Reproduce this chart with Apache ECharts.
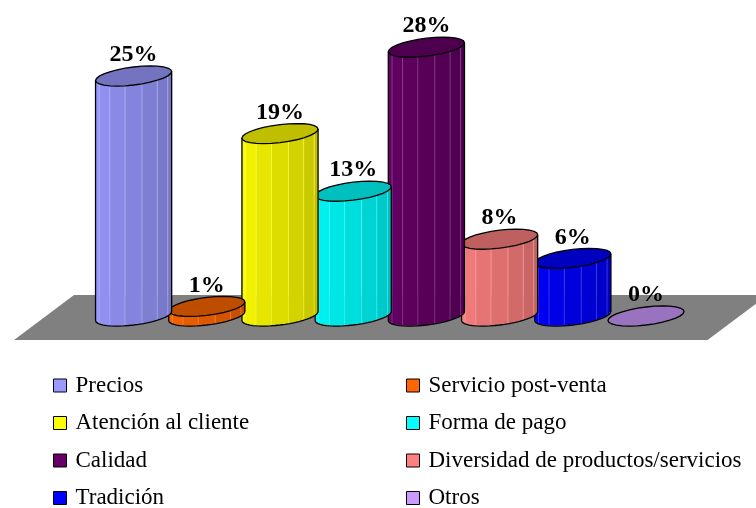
<!DOCTYPE html>
<html><head><meta charset="utf-8">
<script src="https://cdn.jsdelivr.net/npm/echarts@6/dist/echarts.min.js"></script>
<style>html,body{margin:0;padding:0;background:#fff}#c{width:756px;height:508px}</style>
</head><body><div id="c"></div>
<script>
const categories = ['Precios','Servicio post-venta','Atención al cliente','Forma de pago','Calidad','Diversidad de productos/servicios','Tradición','Otros'];
const values = [25, 1, 19, 13, 28, 8, 6, 0];
const colors = ['#9999FF','#FF6600','#FFFF00','#00FFFF','#660066','#FF8080','#0000FF','#CC99FF'];
const labels = values.map(v => v + '%');

function hexToRgb(h){h=h.replace('#','');return [parseInt(h.substr(0,2),16),parseInt(h.substr(2,2),16),parseInt(h.substr(4,2),16)];}
function shade(h,f){const c=hexToRgb(h).map(x=>Math.max(0,Math.min(255,Math.round(x*f))));return 'rgb('+c.join(',')+')';}
function tint(h,f){const c=hexToRgb(h).map(x=>Math.round(x+(255-x)*f));return 'rgb('+c.join(',')+')';}

function renderCyl(params, api){
  const i = api.value(0), v = api.value(1);
  const top = api.coord([i, v]), base = api.coord([i, 0]);
  const bw = api.size([1, 0])[0];
  const rx = bw*0.52, ry = 9, k = 4.5;
  const cx = top[0], ty = top[1], by = base[1];
  const col = colors[i];
  const pt = (t, cy) => [cx + rx*Math.cos(t), cy + ry*Math.sin(t) - k*Math.cos(t)];
  const children = [];
  if (by - ty > 0.5) {
    const N = 7;
    for (let j=0;j<N;j++){
      const t1 = Math.PI - j*Math.PI/N, t2 = Math.PI - (j+1)*Math.PI/N;
      const f = 1 - 0.27*(j+0.5)/N;
      children.push({type:'polygon', shape:{points:[pt(t1,ty),pt(t2,ty),pt(t2,by),pt(t1,by)]},
        style:{fill:shade(col,f), stroke:tint(col,0.25), lineWidth:0.5}});
    }
    const outline=[pt(Math.PI,ty)];
    for (let j=0;j<=24;j++){ outline.push(pt(Math.PI - j*Math.PI/24, by)); }
    outline.push(pt(0,ty));
    children.push({type:'polyline', shape:{points:outline}, style:{fill:null, stroke:'#000', lineWidth:1.3}});
  }
  const ell=[];
  for (let j=0;j<28;j++){ ell.push(pt(j*2*Math.PI/28, ty)); }
  children.push({type:'polygon', shape:{points:ell}, style:{fill:shade(col,0.75), stroke:'#000', lineWidth:1.3}});
  children.push({type:'text', style:{text:labels[i], x:cx, y:ty-ry-12, align:'center', verticalAlign:'middle',
    font:'bold 24px "Liberation Serif"', fill:'#000'}});
  return {type:'group', children};
}

function renderFloor(params, api){
  const b0 = api.coord([0,0]);
  const b1 = api.coord([categories.length-1,0]);
  const bw = api.size([1,0])[0];
  const left = b0[0]-bw/2, right = b1[0]+bw/2, y0 = b0[1];
  return {type:'polygon', shape:{points:[[left-23,y0-21],[right+85,y0-21],[right+25,y0+24],[left-83,y0+24]]},
    style:{fill:'#808080'}};
}

const series = [{type:'custom', name:'floor', renderItem:renderFloor, data:[[0,0]], z:1, silent:true}];
categories.forEach((c,i)=>{
  series.push({type:'custom', name:c, renderItem:renderCyl, data:[[i, values[i]]], encode:{x:0,y:1},
    itemStyle:{color:colors[i]}, z:10+(categories.length-i), silent:true});
});

const legendCommon = {orient:'vertical', top:374, height:200, padding:0, itemWidth:13, itemHeight:13, itemGap:14.5, icon:'rect',
  textStyle:{fontFamily:'Liberation Serif', fontSize:23, color:'#000', lineHeight:23, padding:[0,0,0,4]},
  itemStyle:{borderColor:'#000', borderWidth:1}, selectedMode:false};

const chart = echarts.init(document.getElementById('c'));
chart.setOption({
  animation:false,
  grid:{left:97, right:73.4, top:28, bottom:192},
  xAxis:{type:'category', data:categories, show:false},
  yAxis:{type:'value', min:0, max:30, show:false},
  legend:[
    Object.assign({left:53, data:[0,2,4,6].map(i=>categories[i])}, legendCommon),
    Object.assign({left:406, data:[1,3,5,7].map(i=>categories[i])}, legendCommon)
  ],
  series
});
</script></body></html>
